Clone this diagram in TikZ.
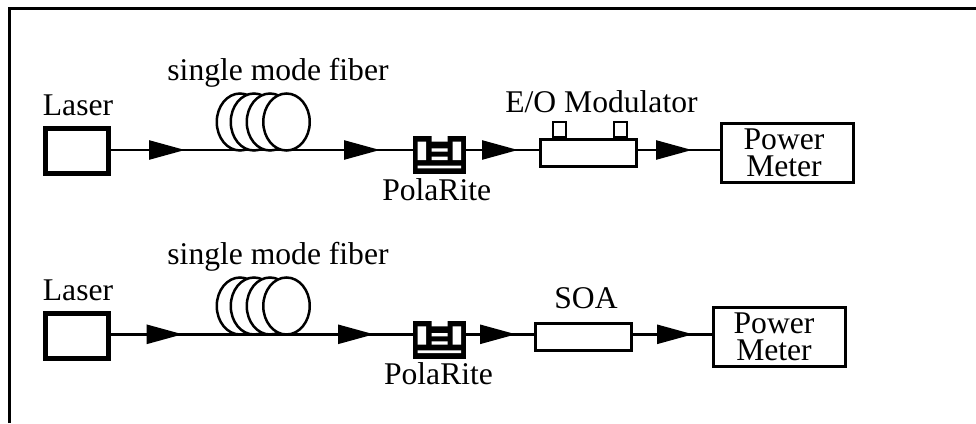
\documentclass[tikz,border=0pt]{standalone}
\usepackage{fontspec}
\setmainfont{Liberation Serif}
\usetikzlibrary{shapes.geometric, arrows.meta, positioning}
\tikzset{
  lab/.style={font=\fontsize{31.6}{27}\selectfont, inner sep=0pt, anchor=base},
  meterlab/.style={font=\fontsize{31.6}{27}\selectfont, inner sep=0pt, align=center},
  fibre/.style={draw, line width=2.5pt},
  tipline/.style={fibre, -{Triangle[length=36pt, width=19pt]}},
  laserbox/.style={draw, line width=5pt, minimum width=63pt, minimum height=45pt},
  devbox/.style={draw, line width=3pt, fill=white, minimum width=96pt, minimum height=27pt},
  tabbox/.style={draw, line width=2pt, minimum width=12.5pt, minimum height=15pt, inner sep=0pt},
  meterbox/.style={draw, line width=3pt, minimum width=131.7pt, minimum height=59pt},
  coilloop/.style={ellipse, draw, line width=2.5pt, fill=white, minimum width=46.5pt, minimum height=57pt, inner sep=0pt},
  polabox/.style={fill=black, minimum width=53pt, minimum height=38pt, inner sep=0pt, outer sep=0pt,
    path picture={
      \fill[white, shift={(path picture bounding box.center)}]
        (-21.8,-13.3) rectangle (-13.5,5)
        (13.2,-13.3) rectangle (21.5,5)
        (-8,-19) rectangle (8,-13.3)
        (-8,-6.7) rectangle (8,-3.3)
        (-8,1.7) rectangle (8,5)
        (-21.8,10.7) rectangle (21.5,13.3);
    }},
}
\begin{document}
\begin{tikzpicture}[x=1pt, y=-1pt]
  \useasboundingbox (0,0) rectangle (976,423);
  % outer frame
  \coordinate (frameA) at (9.3,423);
  \coordinate (frameB) at (9.3,8.3);
  \coordinate (frameC) at (976,8.3);
  \draw[line width=3pt] (frameA) -- (frameB) -- (frameC);

  % upper row
  \coordinate (lineA) at (0,150);
  \node[laserbox] (laserA) at (77,151) {};
  \node[polabox] (polaA) at (439.5,155) {};
  \node[devbox] (modA) at (588.5,152.7) {};
  \node[tabbox, above=0pt of modA.north west, xshift=20.5pt, anchor=south] (tabA) {};
  \node[tabbox, above=0pt of modA.north east, xshift=-17.5pt, anchor=south] (tabB) {};
  \node[meterbox] (meterA) at (787.3,152.7) {};
  \coordinate (tipA) at (185,150);
  \coordinate (tipB) at (380,150);
  \coordinate (tipC) at (518,150);
  \coordinate (tipD) at (692,150);
  \draw[fibre] (laserA.east |- lineA) -- (polaA.west |- lineA);
  \draw[fibre] (polaA.east |- lineA) -- (modA.west |- lineA);
  \draw[fibre] (modA.east |- lineA) -- (meterA.west |- lineA);
  \draw[tipline] (laserA.east |- lineA) -- (tipA);
  \draw[tipline] (tipA) -- (tipB);
  \draw[tipline] (polaA.east |- lineA) -- (tipC);
  \draw[tipline] (modA.east |- lineA) -- (tipD);
  \foreach \x/\n in {240/a, 254/b, 270/c, 286.5/d}
    \node[coilloop] (coilA\n) at (\x,122) {};
  \node[lab] (laserlabA) at (78,115) {Laser};
  \node[lab] (fiberlabA) at (278,80) {single mode fiber};
  \node[lab] (polalabA) at (436.7,200) {PolaRite};
  \node[lab] (modlabA) at (601.5,112.7) {E/O Modulator};
  \node[meterlab] (meterlabA) at (784,153) {Power\\Meter};

  % lower row
  \coordinate (lineB) at (0,334.3);
  \node[laserbox] (laserB) at (77,335.8) {};
  \node[polabox] (polaB) at (439.5,339.7) {};
  \node[devbox] (soaB) at (583.5,336.8) {};
  \node[meterbox] (meterB) at (779.2,337) {};
  \coordinate (tipE) at (182.7,334.3);
  \coordinate (tipF) at (374,334.3);
  \coordinate (tipG) at (516,334.3);
  \coordinate (tipH) at (693,334.3);
  \draw[fibre] (laserB.east |- lineB) -- (polaB.west |- lineB);
  \draw[fibre] (polaB.east |- lineB) -- (soaB.west |- lineB);
  \draw[fibre] (soaB.east |- lineB) -- (meterB.west |- lineB);
  \draw[tipline] (laserB.east |- lineB) -- (tipE);
  \draw[tipline] (tipE) -- (tipF);
  \draw[tipline] (polaB.east |- lineB) -- (tipG);
  \draw[tipline] (soaB.east |- lineB) -- (tipH);
  \foreach \x/\n in {240/a, 254/b, 270/c, 286.5/d}
    \node[coilloop] (coilB\n) at (\x,306) {};
  \node[lab] (laserlabB) at (78,300) {Laser};
  \node[lab] (fiberlabB) at (278,264) {single mode fiber};
  \node[lab] (polalabB) at (438.5,384) {PolaRite};
  \node[lab] (soalabB) at (586,308) {SOA};
  \node[meterlab] (meterlabB) at (774,337) {Power\\Meter};
\end{tikzpicture}
\end{document}
